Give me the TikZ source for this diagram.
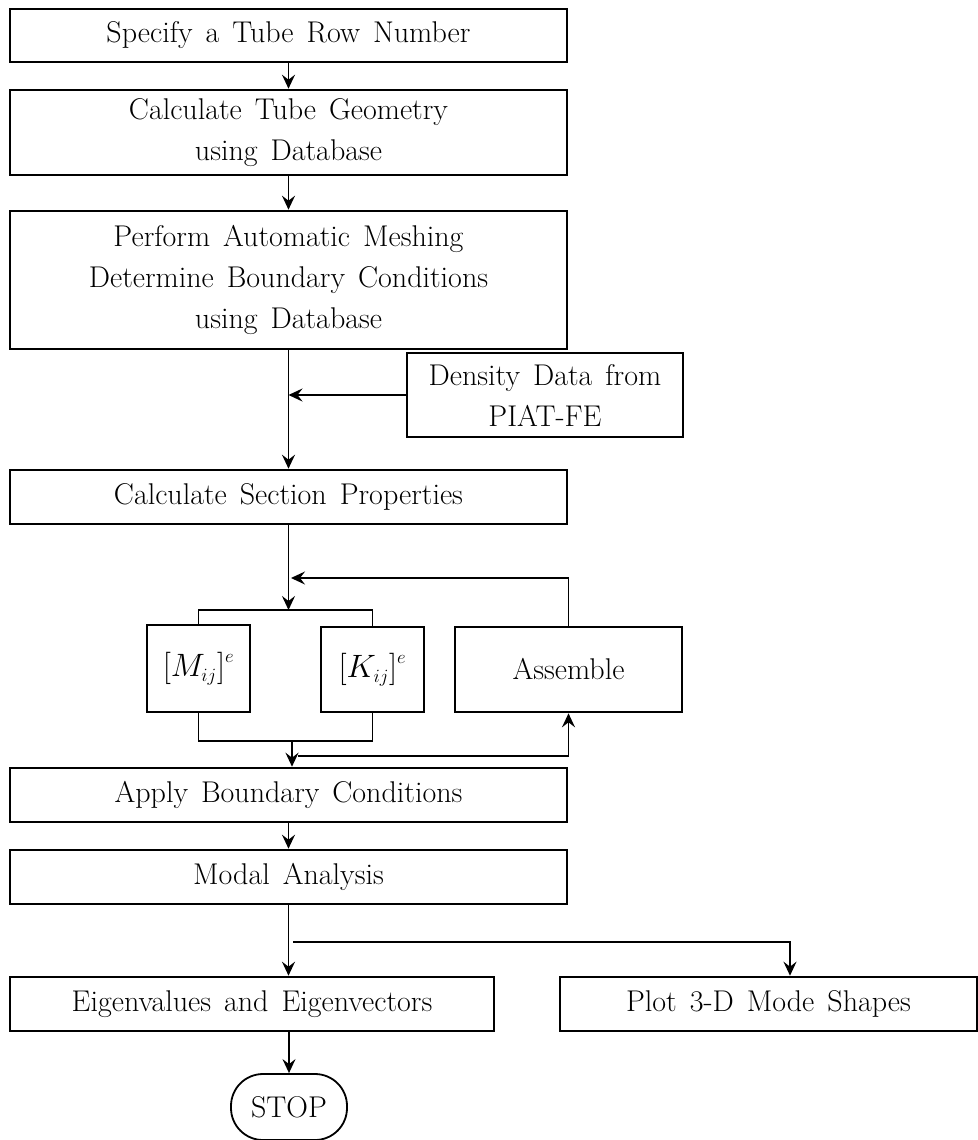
\documentclass[tikz,border=0pt]{standalone}
\usepackage{fontspec}
\usetikzlibrary{arrows.meta}
\newcommand{\bigmath}[1]{\scalebox{1.3}{$#1$}}
\begin{document}
\begin{tikzpicture}[x=1pt,y=-1pt,
  box/.style={draw,line width=2.6pt,inner sep=0pt,align=center,
    font={\fontsize{30}{41}\selectfont\spaceskip=13pt plus 2pt\relax}},
  ln/.style={line width=1.8pt},
  arr/.style={ln,-{Stealth[length=14pt,width=13pt,inset=5pt]}}]
\useasboundingbox (0,0) rectangle (977,1140);
\node[box,minimum width=557pt,minimum height=53pt] (b1) at (288.5,35.5) {Specify a Tube Row Number};
\node[box,minimum width=557pt,minimum height=85pt] (b2) at (288.5,132.5) {Calculate Tube Geometry\\using Database};
\node[box,minimum width=557pt,minimum height=138pt] (b3) at (288.5,280) {Perform Automatic Meshing\\Determine Boundary Conditions\\using Database};
\node[box,minimum width=276pt,minimum height=84pt] (den) at (545,395) {Density Data from\\PIAT-FE};
\node[box,minimum width=557pt,minimum height=54pt] (sec) at (288.5,497) {Calculate Section Properties};
\node[box,minimum width=103pt,minimum height=87pt] (M) at (198.5,668.5) {\bigmath{\left[M_{\scriptscriptstyle ij}\right]^{\scriptscriptstyle e}}};
\node[box,minimum width=103pt,minimum height=85pt] (K) at (372.5,669.5) {\bigmath{\left[K_{\scriptscriptstyle ij}\right]^{\scriptscriptstyle e}}};
\node[box,minimum width=227pt,minimum height=85pt] (asm) at (568.5,669.5) {Assemble};
\node[box,minimum width=557pt,minimum height=54pt] (app) at (288.5,795) {Apply Boundary Conditions};
\node[box,minimum width=557pt,minimum height=54pt] (mod) at (288.5,877) {Modal Analysis};
\node[box,minimum width=484pt,minimum height=54pt] (eig) at (252,1004) {Eigenvalues and Eigenvectors};
\node[box,minimum width=417pt,minimum height=54pt] (plot) at (768.5,1004) {Plot 3-D Mode Shapes};
\node[box,line width=1.8pt,rounded corners=32pt,minimum width=116pt,minimum height=66pt] (stop) at (289,1107) {STOP};
% connectors
\draw[arr] (b1.south) -- (b2.north);
\draw[arr] (b2.south) -- (b3.north);
\draw[arr] (b3.south) -- (sec.north);
\draw[arr] (den.west) -- (den.west -| b3.south);
\coordinate (split) at (288.5,610);
\draw[arr] (sec.south) -- (split);
\draw[ln] (M.north) -- (M.north |- split) -- (K.north |- split) -- (K.north);
\coordinate (fb) at (291,578);
\draw[arr] (asm.north) |- (fb);
\coordinate (join) at (292,741);
\draw[ln] (M.south) -- (M.south |- join) -- (K.south |- join) -- (K.south);
\draw[arr] (join) -- (join |- app.north);
\coordinate (afeed) at (298,756);
\draw[arr] (afeed) -| (asm.south);
\draw[arr] (app.south) -- (mod.north);
\draw[arr] (mod.south) -- (mod.south |- eig.north);
\coordinate (br) at (293,942);
\draw[arr] (br) -| ([xshift=21.5pt]plot.north);
\draw[arr] (eig.south -| stop.north) -- (stop.north);
\end{tikzpicture}
\end{document}
